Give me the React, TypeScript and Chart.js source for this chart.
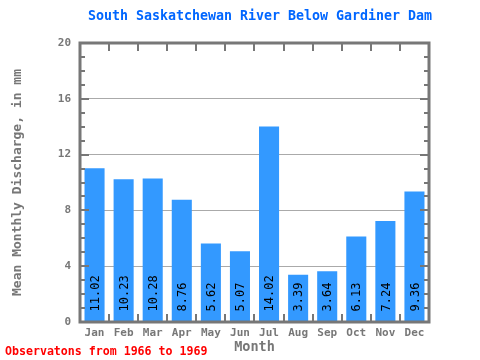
import React, { useEffect, useRef } from "react";
import { Chart, registerables } from "chart.js";

Chart.register(...registerables);

const months = ["Jan", "Feb", "Mar", "Apr", "May", "Jun", "Jul", "Aug", "Sep", "Oct", "Nov", "Dec"];
const discharge = [11.02, 10.23, 10.28, 8.76, 5.62, 5.07, 14.02, 3.39, 3.64, 6.13, 7.24, 9.36];
const yMin = 0;
const yMax = 20;
const yStep = 4;
const titleText = "South Saskatchewan River Below Gardiner Dam";
const yTitle = "Mean Monthly Discharge, in mm";
const xTitle = "Month";
const footerText = "Observatons from 1966 to 1969";

const MONO = '"DejaVu Sans Mono", monospace';
const GRAY = "#777777";

const decorPlugin = {
  id: "decor",
  afterDatasetsDraw(chart: any) {
    const ctx = chart.ctx;
    const meta = chart.getDatasetMeta(0);
    ctx.save();
    ctx.fillStyle = "#000000";
    ctx.font = `12px ${MONO}`;
    ctx.textAlign = "left";
    ctx.textBaseline = "middle";
    meta.data.forEach((bar: any, i: number) => {
      ctx.save();
      ctx.translate(bar.x, bar.base - 10);
      ctx.rotate(-Math.PI / 2);
      ctx.fillText(discharge[i].toFixed(2), 0, 1);
      ctx.restore();
    });
    ctx.restore();
  },
  afterDraw(chart: any) {
    const ctx = chart.ctx;
    const { left, right, top, bottom } = chart.chartArea;
    const y = chart.scales.y;
    const x = chart.scales.x;
    ctx.save();
    ctx.strokeStyle = GRAY;
    ctx.lineWidth = 3;
    ctx.strokeRect(left, top, right - left, bottom - top);
    ctx.lineWidth = 2;
    for (let v = yMin; v <= yMax; v += 1) {
      const py = Math.round(y.getPixelForValue(v));
      const len = v % yStep === 0 ? 9 : 5;
      ctx.beginPath();
      ctx.moveTo(left, py);
      ctx.lineTo(left + len, py);
      ctx.moveTo(right, py);
      ctx.lineTo(right - len, py);
      ctx.stroke();
    }
    const n = months.length;
    const w = (right - left) / n;
    for (let i = 1; i < n; i++) {
      const px = Math.round(x.getPixelForValue(i) - w / 2);
      ctx.beginPath();
      ctx.moveTo(px, top);
      ctx.lineTo(px, top + 8);
      ctx.moveTo(px, bottom);
      ctx.lineTo(px, bottom - 8);
      ctx.stroke();
    }
    ctx.fillStyle = "#0066FF";
    ctx.font = `bold 13.3px ${MONO}`;
    ctx.textAlign = "center";
    ctx.textBaseline = "middle";
    ctx.fillText(titleText, 260, 17);
    ctx.fillStyle = "#FF0000";
    ctx.font = `bold 11.6px ${MONO}`;
    ctx.textAlign = "left";
    ctx.fillText(footerText, 5, 352);
    ctx.restore();
  },
};

export default function App() {
  const ref = useRef<HTMLCanvasElement>(null);
  useEffect(() => {
    document.body.style.margin = "0";
    const chart = new Chart(ref.current!, {
      type: "bar",
      data: {
        labels: months,
        datasets: [
          {
            data: discharge,
            backgroundColor: "#3399FF",
            borderWidth: 0,
            categoryPercentage: 1,
            barPercentage: 0.69,
          },
        ],
      },
      options: {
        animation: false,
        responsive: false,
        layout: { padding: { top: 43, right: 51, left: 0, bottom: 0 } },
        plugins: {
          legend: { display: false },
          title: { display: false },
          tooltip: { enabled: false },
        },
        scales: {
          x: {
            grid: { display: false, drawTicks: false },
            border: { display: false },
            ticks: { color: GRAY, font: { family: MONO, size: 11, weight: "bold" }, padding: 5 },
            title: {
              display: true,
              text: xTitle,
              color: GRAY,
              font: { family: MONO, size: 13.5, weight: "bold" },
              padding: { top: 0, bottom: 4 },
            },
            afterFit(scale: any) {
              scale.height = 38;
            },
          },
          y: {
            min: yMin,
            max: yMax,
            ticks: { stepSize: yStep, color: GRAY, font: { family: MONO, size: 11, weight: "bold" }, padding: 9 },
            grid: { color: "#AAAAAA", lineWidth: 1, drawTicks: false },
            border: { display: false },
            title: {
              display: true,
              text: yTitle,
              color: GRAY,
              font: { family: MONO, size: 13, weight: "bold" },
              padding: { top: 10, bottom: 0 },
            },
            afterFit(scale: any) {
              scale.width = 80;
            },
          },
        },
      },
      plugins: [decorPlugin],
    });
    return () => chart.destroy();
  }, []);
  return (
    <div style={{ position: "absolute", left: 0, top: 0, width: 480, height: 360 }}>
      <canvas ref={ref} width={480} height={360} style={{ width: 480, height: 360 }} />
    </div>
  );
}
